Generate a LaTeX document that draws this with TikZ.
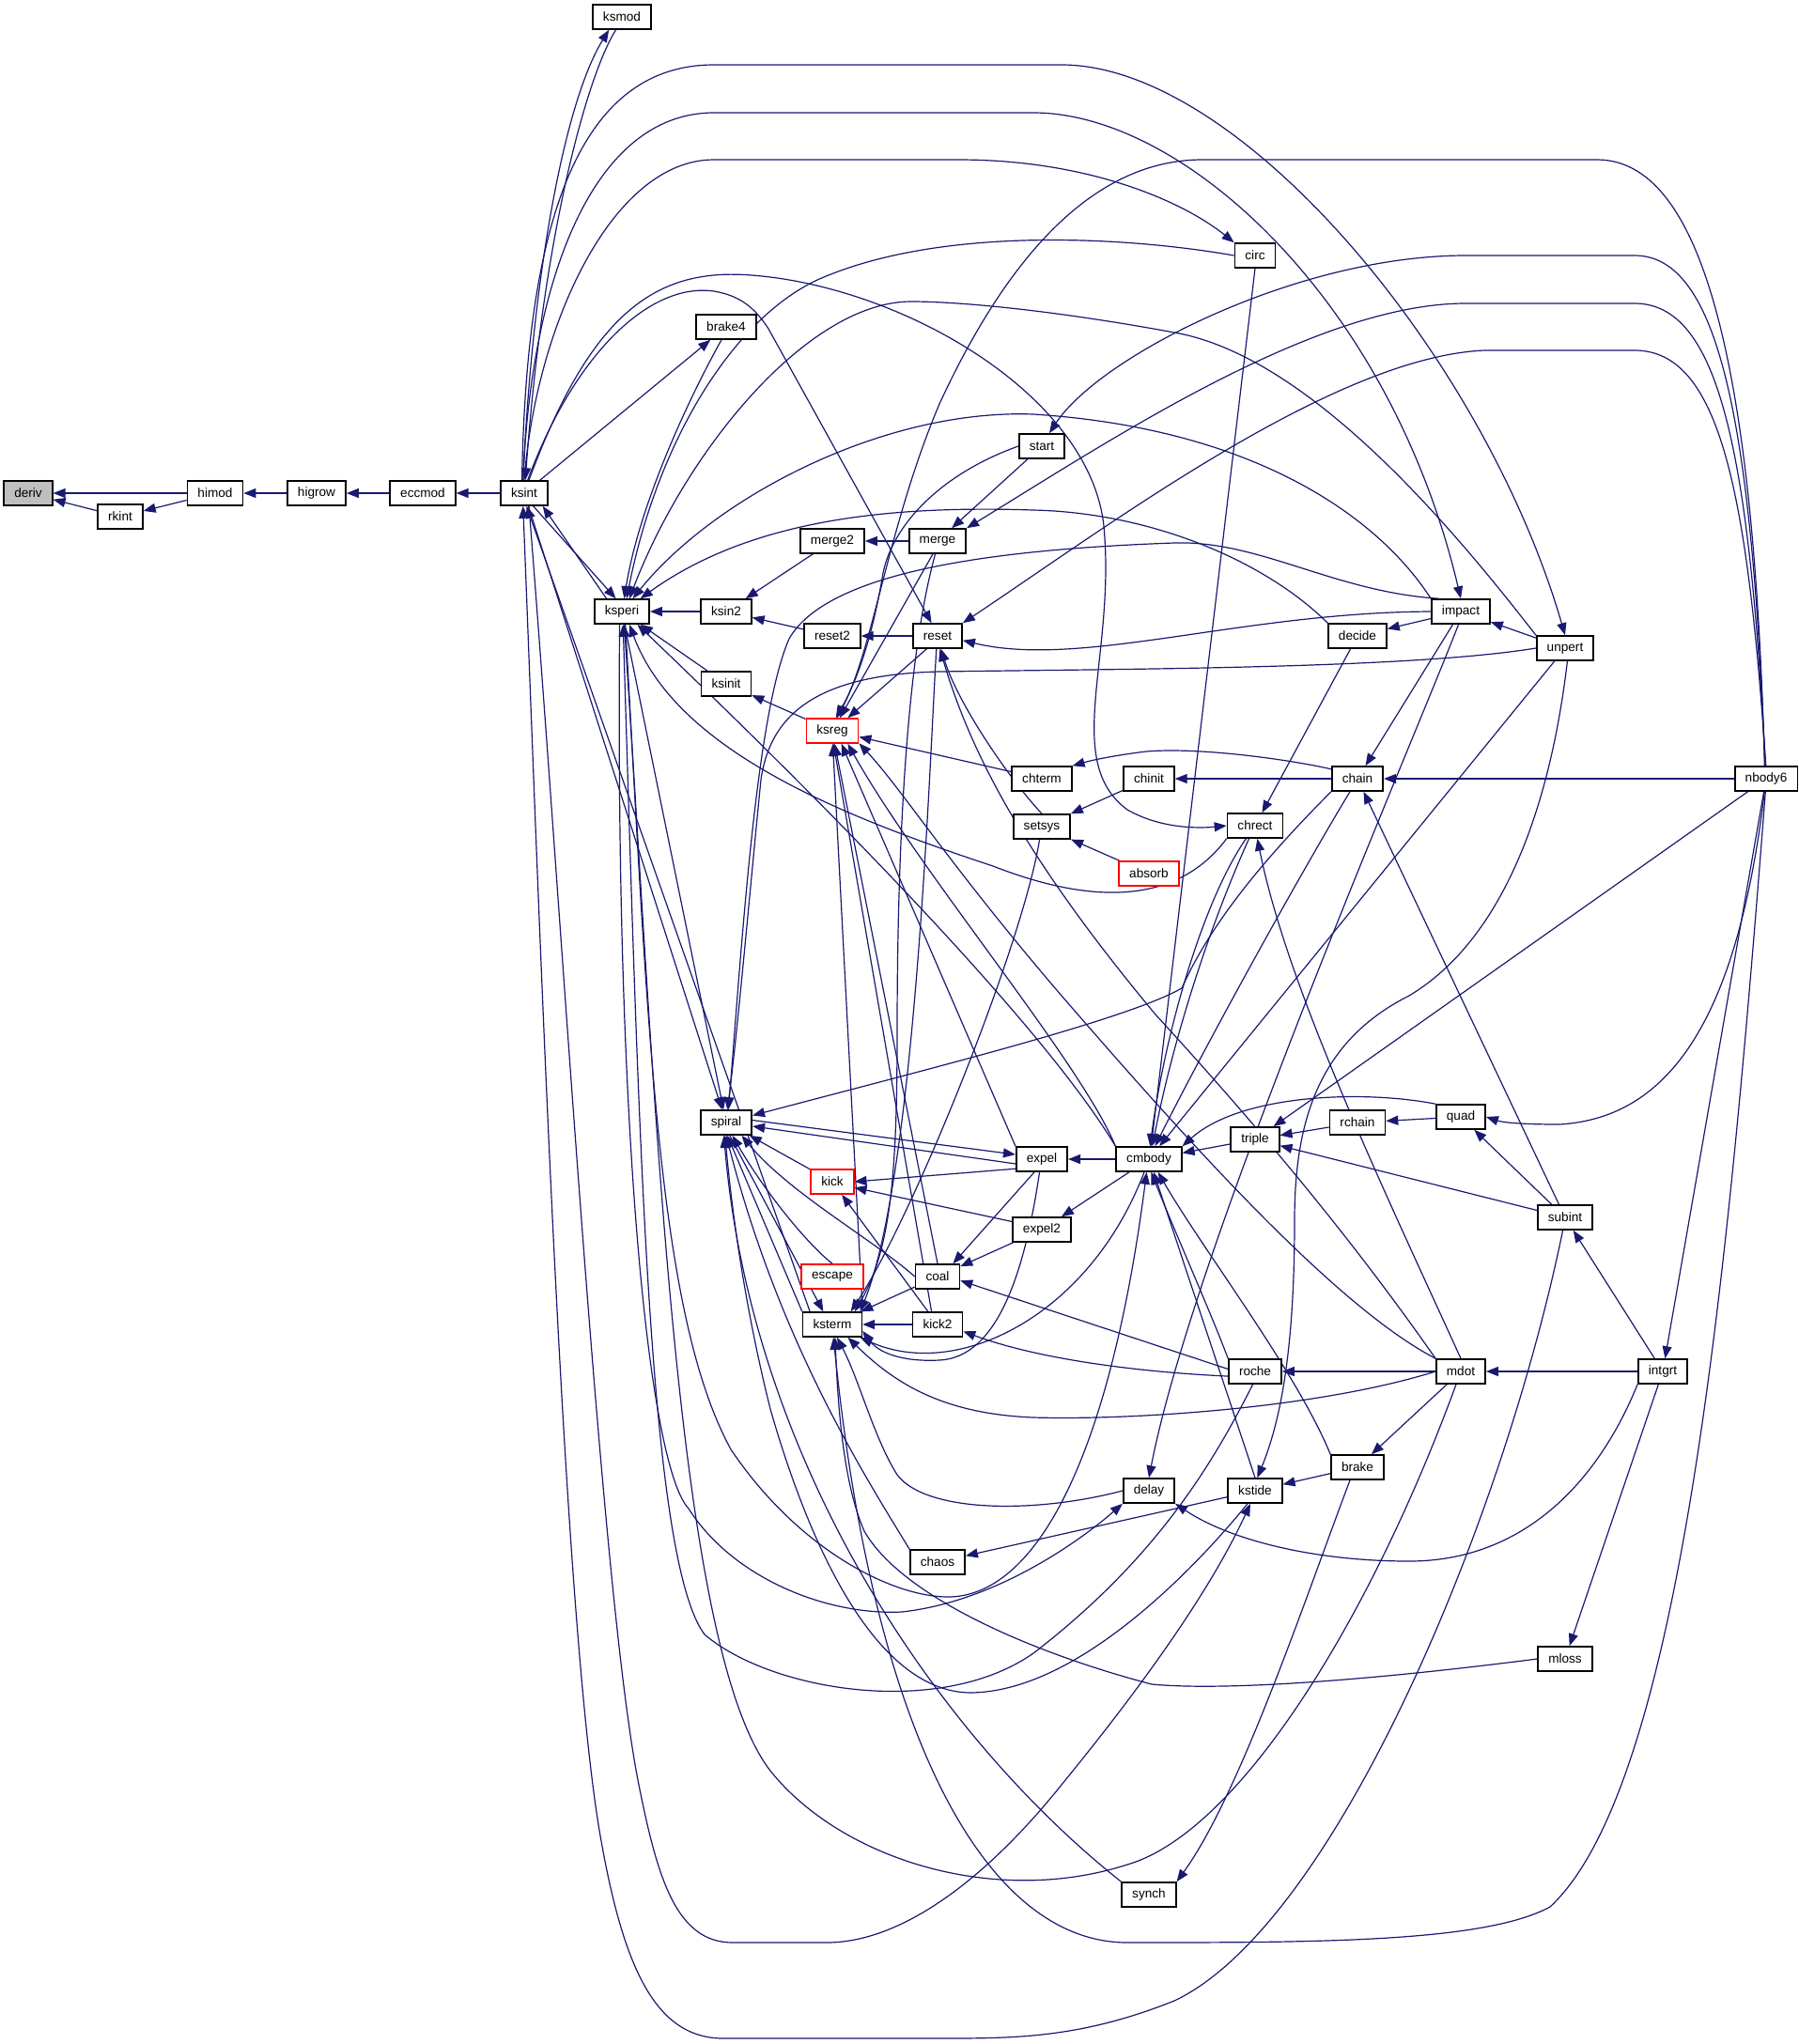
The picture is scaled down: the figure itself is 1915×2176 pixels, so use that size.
\documentclass[tikz,border=0pt]{standalone}
\usepackage{fontspec}
\setmainfont{Liberation Sans}
\usetikzlibrary{arrows.meta,backgrounds}
\definecolor{edgeblue}{RGB}{25,25,112}
\definecolor{rootgray}{RGB}{191,191,191}
\begin{document}
\begin{tikzpicture}[x=0.5pt,y=-0.5pt,
  fn/.style={draw=black, line width=0.8pt, fill=white, minimum height=13pt, inner xsep=5.5pt, inner ysep=0pt, font=\fontsize{6.8}{8}\selectfont},
  open/.style={fn, draw=red},
  root/.style={fn, fill=rootgray},
  call/.style={draw=edgeblue, line width=0.6pt, -{Triangle[length=6.5pt,width=5pt]}}]
\useasboundingbox (0,0) rectangle (1915,2176);
\node[root] (deriv) at (30,525) {deriv};
\node[fn] (rkint) at (128,550) {rkint};
\node[fn] (himod) at (229,525) {himod};
\node[fn] (higrow) at (337,525) {higrow};
\node[fn] (eccmod) at (450,525) {eccmod};
\node[fn] (ksint) at (558,525) {ksint};
\node[fn] (ksmod) at (662,18) {ksmod};
\node[fn] (ksperi) at (662,651) {ksperi};
\node[fn] (brake4) at (773,348) {brake4};
\node[fn] (ksin2) at (773,651) {ksin2};
\node[fn] (ksinit) at (773,728) {ksinit};
\node[fn] (spiral) at (773,1195) {spiral};
\node[fn] (merge2) at (886,576) {merge2};
\node[fn] (reset2) at (886,677) {reset2};
\node[open] (ksreg) at (886,778) {ksreg};
\node[open] (kick) at (886,1258) {kick};
\node[open] (escape) at (886,1359) {escape};
\node[fn] (ksterm) at (886,1410) {ksterm};
\node[fn] (merge) at (998,576) {merge};
\node[fn] (reset) at (998,677) {reset};
\node[fn] (coal) at (998,1359) {coal};
\node[fn] (kick2) at (998,1410) {kick2};
\node[fn] (chaos) at (998,1663) {chaos};
\node[fn] (start) at (1109,475) {start};
\node[fn] (chterm) at (1109,829) {chterm};
\node[fn] (setsys) at (1109,880) {setsys};
\node[fn] (expel) at (1109,1234) {expel};
\node[fn] (expel2) at (1109,1309) {expel2};
\node[fn] (chinit) at (1223,829) {chinit};
\node[open] (absorb) at (1223,930) {absorb};
\node[fn] (cmbody) at (1223,1234) {cmbody};
\node[fn] (delay) at (1223,1587) {delay};
\node[fn] (synch) at (1223,2017) {synch};
\node[fn] (circ) at (1336,272) {circ};
\node[fn] (chrect) at (1336,879) {chrect};
\node[fn] (triple) at (1336,1213) {triple};
\node[fn] (roche) at (1336,1460) {roche};
\node[fn] (kstide) at (1336,1587) {kstide};
\node[fn] (decide) at (1445,677) {decide};
\node[fn] (chain) at (1445,829) {chain};
\node[fn] (rchain) at (1445,1195) {rchain};
\node[fn] (brake) at (1445,1562) {brake};
\node[fn] (impact) at (1555,651) {impact};
\node[fn] (quad) at (1555,1189) {quad};
\node[fn] (mdot) at (1555,1460) {mdot};
\node[fn] (unpert) at (1666,690) {unpert};
\node[fn] (subint) at (1666,1296) {subint};
\node[fn] (mloss) at (1666,1766) {mloss};
\node[fn] (intgrt) at (1770,1460) {intgrt};
\node[fn] (nbody6) at (1880,829) {nbody6};
\begin{pgfonlayer}{background}
\draw[call] (himod) -- (deriv);
\draw[call] (rkint) -- (deriv);
\draw[call] (himod) -- (rkint);
\draw[call] (higrow) -- (himod);
\draw[call] (eccmod) -- (higrow);
\draw[call] (ksint) -- (eccmod);
\draw[call] (ksint.95) .. controls (566,300) and (600,110) .. (ksmod.-135);
\draw[call] (ksmod.-115) .. controls (625,80) and (578,250) .. (ksint.85);
\draw[call] (ksint.-55) -- (ksperi.115);
\draw[call] (ksperi.140) -- (ksint.-35);
\draw[call] (ksint.100) .. controls (560,250) and (610,69) .. (760,69) -- (1130,69) .. controls (1320,69) and (1580,380) .. (unpert.north);
\draw[call] (ksint.95) .. controls (565,300) and (630,120) .. (760,120) -- (1100,120) .. controls (1260,120) and (1480,320) .. (impact.north);
\draw[call] (ksint.90) .. controls (570,350) and (650,170) .. (760,170) -- (1020,170) .. controls (1160,170) and (1260,215) .. (circ.north west);
\draw[call] (ksint) -- (brake4);
\draw[call] (brake4.-110) .. controls (730,430) and (680,540) .. (ksperi.80);
\draw[call] (circ.west) .. controls (1200,252) and (1000,240) .. (870,298) .. controls (780,340) and (700,470) .. (ksperi.70);
\draw[call] (circ.south) -- (cmbody.80);
\draw[call] (ksint.70) .. controls (630,330) and (700,285) .. (800,293) .. controls (960,305) and (1160,420) .. (1175,560) .. controls (1188,700) and (1130,810) .. (1200,862) .. controls (1235,882) and (1275,882) .. (chrect.west);
\draw[call] (ksint.75) .. controls (610,380) and (690,300) .. (760,310) .. controls (790,315) and (805,330) .. (818,350) -- (reset.115);
\draw[call] (ksin2) -- (ksperi);
\draw[call] (merge2) -- (ksin2);
\draw[call] (reset2) -- (ksin2);
\draw[call] (merge) -- (merge2);
\draw[call] (reset) -- (reset2);
\draw[call] (ksinit) -- (ksperi);
\draw[call] (ksreg) -- (ksinit);
\draw[call] (start) -- (merge);
\draw[call] (unpert.north west) .. controls (1560,580) and (1400,380) .. (1250,354) .. controls (1120,330) and (1020,321) .. (970,321) .. controls (860,321) and (730,480) .. (ksperi.60);
\draw[call] (impact.north west) .. controls (1460,540) and (1320,455) .. (1100,441) .. controls (940,435) and (760,530) .. (ksperi.50);
\draw[call] (decide.north west) .. controls (1350,600) and (1230,546) .. (1100,543) .. controls (950,538) and (800,552) .. (ksperi.35);
\draw[call] (impact.150) .. controls (1420,630) and (1340,575) .. (1250,578) .. controls (1050,585) and (880,610) .. (840,680) .. controls (805,760) and (790,1000) .. (spiral.80);
\draw[call] (unpert.west) .. controls (1500,712) and (1200,712) .. (1000,715) .. controls (870,718) and (820,760) .. (810,830) .. controls (798,950) and (785,1100) .. (spiral.85);
\draw[call] (impact.west) .. controls (1320,652) and (1150,712) .. (reset.-10);
\draw[call] (nbody6.95) .. controls (1865,450) and (1830,272) .. (1740,272) -- (1560,272) .. controls (1380,272) and (1170,380) .. (start.60);
\draw[call] (nbody6.93) .. controls (1862,480) and (1830,323) .. (1740,323) -- (1560,323) .. controls (1400,323) and (1180,470) .. (merge.north east);
\draw[call] (nbody6.91) .. controls (1860,520) and (1830,373) .. (1740,373) -- (1580,373) .. controls (1420,380) and (1180,560) .. (reset.north east);
\draw[call] (nbody6.97) .. controls (1868,420) and (1820,170) .. (1700,170) -- (1280,170) .. controls (1150,170) and (1060,300) .. (1000,430) .. controls (945,560) and (930,690) .. (ksreg.70);
\draw[call] (start.west) .. controls (1000,505) and (950,560) .. (940,610) .. controls (930,670) and (915,720) .. (ksreg.75);
\draw[call] (merge.-110) -- (ksreg.60);
\draw[call] (merge.-100) .. controls (965,700) and (955,900) .. (955,1100) .. controls (955,1250) and (948,1330) .. (ksterm.30);
\draw[call] (reset.-130) -- (ksreg.40);
\draw[call] (reset.-95) .. controls (990,800) and (975,1250) .. (ksterm.25);
\draw[call] (chterm) -- (ksreg);
\draw[call] (ksterm.north east) -- (ksreg.-88);
\draw[call] (coal.north) -- (ksreg.-80);
\draw[call] (kick2.115) -- (ksreg.-85);
\draw[call] (expel.north west) -- (ksreg.-55);
\draw[call] (cmbody.north west) .. controls (1150,1130) and (980,930) .. (ksreg.-40);
\draw[call] (mdot.north west) .. controls (1420,1390) and (1260,1210) .. (1130,1060) .. controls (1010,920) and (960,840) .. (ksreg.-25);
\draw[call] (ksint) -- (spiral);
\draw[call] (ksperi) -- (spiral);
\draw[call] (spiral.5) -- (expel.170);
\draw[call] (expel.190) -- (spiral.-8);
\draw[call] (kick) -- (spiral);
\draw[call] (escape.north) .. controls (860,1325) and (815,1270) .. (spiral.-65);
\draw[call] (coal.west) .. controls (930,1320) and (840,1270) .. (spiral.-40);
\draw[call] (ksterm.north west) -- (spiral.-85);
\draw[call] (spiral.-75) -- (ksterm.125);
\draw[call] (ksterm.150) -- (ksint.-80);
\draw[call] (chaos.north west) .. controls (920,1570) and (830,1430) .. (spiral.-90);
\draw[call] (synch.north west) .. controls (1000,1850) and (800,1560) .. (spiral.-100);
\draw[call] (kstide.-120) .. controls (1280,1660) and (1150,1802) .. (1032,1802) .. controls (930,1800) and (860,1640) .. (820,1500) .. controls (795,1400) and (780,1300) .. (spiral.-95);
\draw[call] (chain.south west) .. controls (1350,910) and (1290,980) .. (1258,1052) .. controls (1200,1085) and (1000,1135) .. (spiral.15);
\draw[call] (expel.200) -- (kick.0);
\draw[call] (expel2.165) -- (kick.-15);
\draw[call] (kick2) -- (kick);
\draw[call] (expel.-120) -- (coal.40);
\draw[call] (expel2) -- (coal);
\draw[call] (roche.175) -- (coal.-10);
\draw[call] (roche.190) .. controls (1200,1460) and (1100,1445) .. (kick2.-15);
\draw[call] (coal) -- (ksterm);
\draw[call] (kick2) -- (ksterm);
\draw[call] (cmbody) -- (expel);
\draw[call] (cmbody) -- (expel2);
\draw[call] (cmbody.-110) .. controls (1160,1400) and (1020,1470) .. (ksterm.-25);
\draw[call] (expel.-100) .. controls (1090,1360) and (1060,1445) .. (1000,1448) .. controls (960,1450) and (935,1440) .. (ksterm.-12);
\draw[call] (mdot.west) .. controls (1400,1500) and (1200,1512) .. (1100,1509) .. controls (1000,1505) and (950,1470) .. (ksterm.-40);
\draw[call] (delay.west) .. controls (1100,1612) and (985,1610) .. (955,1570) .. controls (930,1530) and (915,1470) .. (ksterm.-70);
\draw[call] (mloss.west) .. controls (1450,1790) and (1300,1800) .. (1226,1793) .. controls (1100,1760) and (960,1700) .. (920,1630) .. controls (898,1580) and (892,1500) .. (ksterm.-78);
\draw[call] (setsys.-100) .. controls (1090,1000) and (975,1290) .. (ksterm.35);
\draw[call] (triple) -- (cmbody);
\draw[call] (quad.north west) .. controls (1450,1160) and (1320,1165) .. (cmbody.north east);
\draw[call] (chain.-120) .. controls (1390,920) and (1290,1100) .. (cmbody.65);
\draw[call] (chrect.-115) .. controls (1290,980) and (1250,1100) .. (cmbody.75);
\draw[call] (chrect.-125) .. controls (1280,960) and (1240,1100) .. (cmbody.85);
\draw[call] (unpert) -- (cmbody);
\draw[call] (roche.north west) .. controls (1290,1400) and (1250,1310) .. (cmbody.-80);
\draw[call] (kstide.north) -- (cmbody.-70);
\draw[call] (brake.north west) .. controls (1380,1460) and (1280,1330) .. (cmbody.-55);
\draw[call] (cmbody.north west) .. controls (1100,1074) and (820,800) .. (ksperi.-40);
\draw[call] (chrect.south west) .. controls (1260,954) and (1180,970) .. (1057,922) .. controls (900,870) and (720,800) .. (ksperi.-60);
\draw[call] (ksperi.-75) .. controls (690,1100) and (700,1400) .. (778,1543) .. controls (850,1650) and (950,1700) .. (1009,1700) .. controls (1100,1700) and (1180,1560) .. (cmbody.-100);
\draw[call] (decide) -- (chrect);
\draw[call] (impact) -- (decide);
\draw[call] (unpert) -- (impact);
\draw[call] (impact) -- (chain);
\draw[call] (subint) -- (chain);
\draw[call] (nbody6) -- (chain);
\draw[call] (chain) -- (chinit);
\draw[call] (chain.160) .. controls (1380,810) and (1280,795) .. (1220,800) .. controls (1180,805) and (1160,810) .. (chterm.north east);
\draw[call] (chinit) -- (setsys);
\draw[call] (absorb) -- (setsys);
\draw[call] (setsys.north) .. controls (1075,830) and (1020,750) .. (reset.-75);
\draw[call] (mdot.north west) .. controls (1440,1320) and (1340,1200) .. (1230,1080) .. controls (1080,900) and (1030,790) .. (reset.-80);
\draw[call] (mdot.north) .. controls (1470,1260) and (1370,1050) .. (chrect.-80);
\draw[call] (impact.-100) .. controls (1500,800) and (1270,1330) .. (delay.north);
\draw[call] (unpert.-80) .. controls (1650,860) and (1600,1000) .. (1500,1060) .. controls (1400,1110) and (1378,1200) .. (1378,1300) .. controls (1378,1450) and (1360,1520) .. (kstide.80);
\draw[call] (rchain) -- (triple);
\draw[call] (quad) -- (rchain);
\draw[call] (subint) -- (triple);
\draw[call] (subint) -- (quad);
\draw[call] (nbody6) -- (triple);
\draw[call] (nbody6.-97) .. controls (1850,1080) and (1780,1190) .. (1660,1197) .. controls (1620,1197) and (1600,1195) .. (quad.east);
\draw[call] (nbody6) -- (intgrt);
\draw[call] (intgrt) -- (subint);
\draw[call] (intgrt) -- (mdot);
\draw[call] (intgrt) -- (mloss);
\draw[call] (mdot) -- (roche);
\draw[call] (mdot) -- (brake);
\draw[call] (brake) -- (kstide);
\draw[call] (kstide) -- (chaos);
\draw[call] (intgrt.south west) .. controls (1700,1580) and (1620,1662) .. (1500,1662) .. controls (1400,1662) and (1310,1640) .. (delay.south east);
\draw[call] (brake.-120) .. controls (1390,1700) and (1320,1910) .. (synch.north east);
\draw[call] (ksperi.-100) .. controls (655,1200) and (690,1560) .. (733,1606) .. controls (780,1680) and (880,1720) .. (960,1716) .. controls (1060,1705) and (1150,1640) .. (delay.south west);
\draw[call] (roche.-100) .. controls (1290,1560) and (1230,1660) .. (1100,1760) .. controls (1000,1830) and (820,1800) .. (750,1740) .. controls (690,1660) and (680,1200) .. (ksperi.-85);
\draw[call] (ksint.-70) .. controls (600,1000) and (640,1700) .. (680,1900) .. controls (700,2000) and (720,2068) .. (780,2068) -- (880,2068) .. controls (960,2068) and (1050,2000) .. (1130,1900) .. controls (1220,1790) and (1290,1690) .. (kstide.-110);
\draw[call] (mdot.-110) .. controls (1460,1720) and (1320,1950) .. (1200,1985) .. controls (1060,2030) and (900,1980) .. (824,1890) .. controls (720,1770) and (700,1200) .. (ksperi.-80);
\draw[call] (subint.-100) .. controls (1600,1620) and (1420,2050) .. (1250,2130) .. controls (1150,2170) and (1080,2170) .. (1000,2170) -- (770,2170) .. controls (700,2170) and (665,2100) .. (640,1960) .. controls (600,1740) and (575,1000) .. (ksint.-95);
\draw[call] (nbody6.-93) .. controls (1840,1350) and (1790,1900) .. (1650,2030) .. controls (1580,2068) and (1400,2068) .. (1200,2068) .. controls (1050,2068) and (930,1850) .. (ksterm.-85);
\end{pgfonlayer}
\end{tikzpicture}
\end{document}
